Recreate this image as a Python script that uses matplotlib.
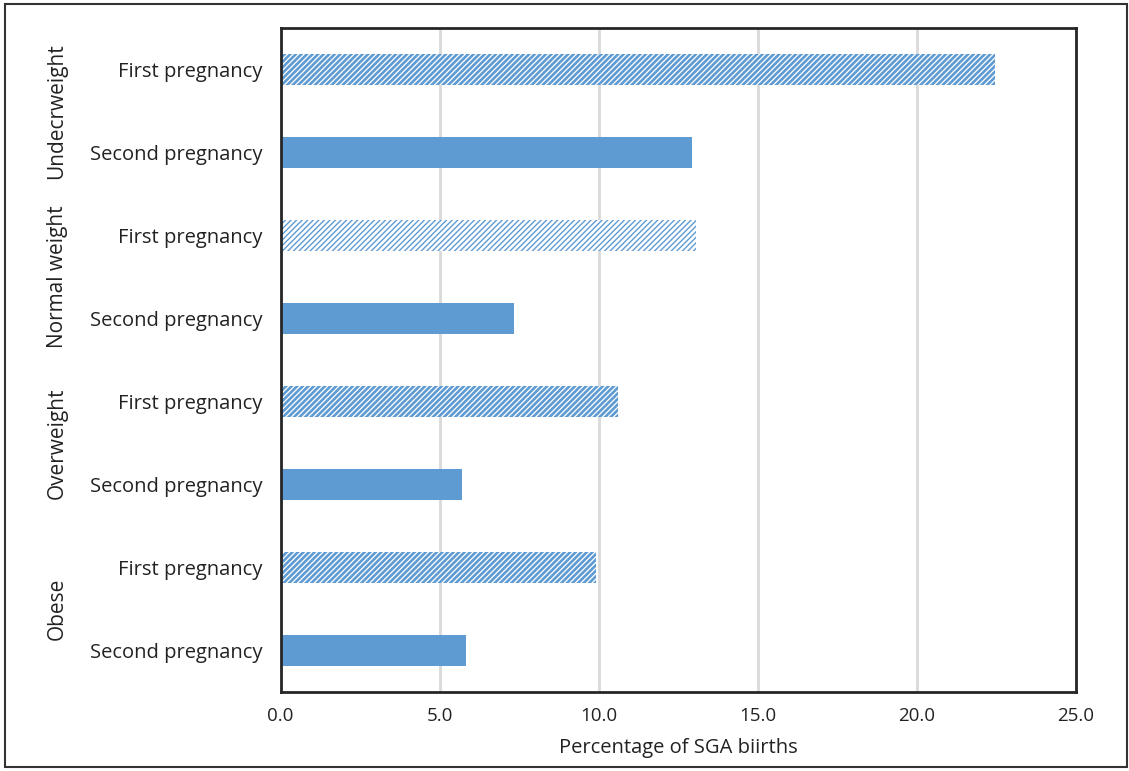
import matplotlib
matplotlib.use("Agg")
import matplotlib.pyplot as plt
from matplotlib.patches import Rectangle

# Data: percentage of SGA births by BMI group and pregnancy order
groups = ["Undecrweight", "Normal weight", "Overweight", "Obese"]
pregnancies = ["First pregnancy", "Second pregnancy"]
first_pct = [22.45, 13.05, 10.62, 9.93]
second_pct = [12.93, 7.33, 5.69, 5.83]
xticks = [0.0, 5.0, 10.0, 15.0, 20.0, 25.0]

blue = "#5f9bd3"
dark = "#262626"
text_col = "#222222"

plt.rcParams["font.family"] = ["Open Sans", "DejaVu Sans"]

fig = plt.figure(figsize=(11.29, 7.71), dpi=100)
ax = fig.add_axes([0.2485, 0.1025, 0.7045, 0.8612])

n = len(groups)
bar_h = 0.37
labels = []
positions = []
for i, g in enumerate(groups):
    y_first = 2 * n - 1 - 2 * i
    y_second = y_first - 1
    lw = 1.0 if g == "Normal weight" else 1.9
    with plt.rc_context({"hatch.linewidth": lw, "hatch.color": blue}):
        b = ax.barh(y_first, first_pct[i], height=bar_h, color="white",
                    edgecolor=blue, linewidth=0, hatch="//////", zorder=3)
        for p in b:
            try:
                p.set_hatch_linewidth(lw)
            except AttributeError:
                pass
    ax.barh(y_second, second_pct[i], height=bar_h, color=blue,
            linewidth=0, zorder=3)
    positions += [y_first, y_second]
    labels += pregnancies
    ax.text(-0.281, (y_first + y_second) / 2, g, rotation=90,
            transform=ax.get_yaxis_transform(), ha="center", va="center",
            fontsize=15, color=text_col)

ax.set_yticks(positions)
ax.set_yticklabels(labels, fontsize=14.5, color=text_col)
ax.set_ylim(-0.5, 2 * n - 0.5)

ax.set_xlim(0, 25)
ax.set_xticks(xticks)
ax.set_xticklabels([f"{v:.1f}" for v in xticks], fontsize=13.5, color=text_col)
ax.set_xlabel("Percentage of SGA biirths", fontsize=14.5, color=text_col,
              labelpad=9)

ax.tick_params(axis="both", length=0)
ax.tick_params(axis="y", pad=13)
ax.tick_params(axis="x", pad=11)
ax.grid(axis="x", color="#d9d9d9", linewidth=2, zorder=0)
ax.set_axisbelow(True)
for s in ax.spines.values():
    s.set_color(dark)
    s.set_linewidth(2)
    s.set_zorder(5)

# Outer frame around the whole figure
fig.patches.append(Rectangle((5 / 1129, 4 / 771), 1122 / 1129, 763 / 771,
                             transform=fig.transFigure, fill=False,
                             edgecolor="#333333", linewidth=1.5))

fig.savefig("out.png", dpi=100)
